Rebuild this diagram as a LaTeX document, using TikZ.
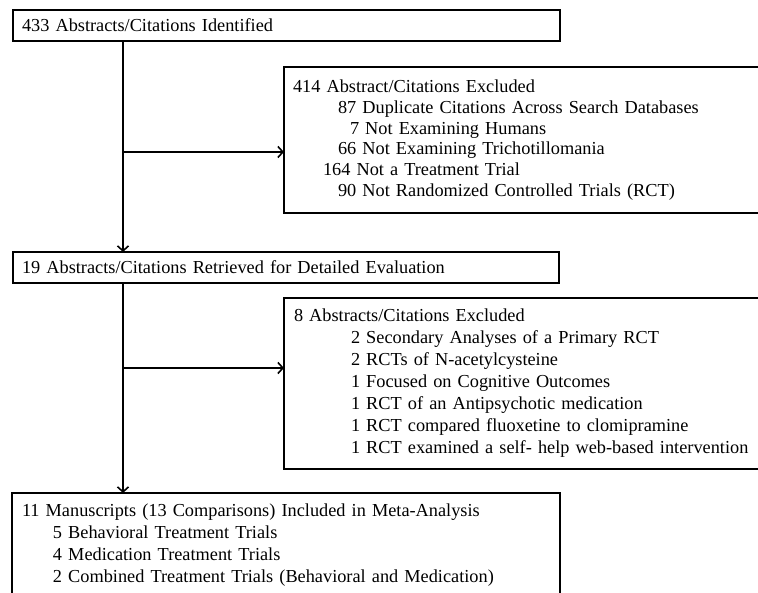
\documentclass[tikz,border=0pt]{standalone}
\usepackage{fontspec}
\setmainfont{Liberation Serif}
\usetikzlibrary{arrows.meta}

\begin{document}
\begin{tikzpicture}[x=1pt,y=-1pt,
    box/.style={draw, line width=1.6pt, anchor=north west, outer sep=0pt,
      inner xsep=9pt, inner ysep=0pt, align=left,
      font=\fontsize{18.3}{20.7}\selectfont},
    wide/.style={font=\fontsize{18.3}{22}\selectfont},
    flow/.style={line width=1.6pt, -{Straight Barb[length=5pt,width=11pt]}}]
  \useasboundingbox (0,0) rectangle (758,593);
  \clip (0,0) rectangle (758,593);

  \node[box, text width=529pt, minimum height=31pt] (ident) at (13,10)
    {433 Abstracts/Citations Identified};
  \node[box, text width=480pt, minimum height=146pt] (excl1) at (284,67)
    {414 Abstract/Citations Excluded\\
     \hspace*{45pt}87 Duplicate Citations Across Search Databases\\
     \hspace*{57pt}7 Not Examining Humans\\
     \hspace*{45pt}66 Not Examining Trichotillomania\\
     \hspace*{30pt}164 Not a Treatment Trial\\
     \hspace*{45pt}90 Not Randomized Controlled Trials (RCT)};
  \node[box, text width=528pt, minimum height=31pt] (retr) at (13,252)
    {19 Abstracts/Citations Retrieved for Detailed Evaluation};
  \node[box, wide, text width=480pt, inner xsep=10pt, minimum height=171pt] (excl2) at (284,298)
    {8 Abstracts/Citations Excluded\\
     \hspace*{57pt}2 Secondary Analyses of a Primary RCT\\
     \hspace*{57pt}2 RCTs of N-acetylcysteine\\
     \hspace*{57pt}1 Focused on Cognitive Outcomes\\
     \hspace*{57pt}1 RCT of an Antipsychotic medication\\
     \hspace*{57pt}1 RCT compared fluoxetine to clomipramine\\
     \hspace*{57pt}1 RCT examined a self- help web-based intervention};
  \node[box, wide, text width=528pt, inner xsep=10pt, minimum height=104pt] (incl) at (12,493)
    {11 Manuscripts (13 Comparisons) Included in Meta-Analysis\\
     \hspace*{31pt}5 Behavioral Treatment Trials\\
     \hspace*{31pt}4 Medication Treatment Trials\\
     \hspace*{31pt}2 Combined Treatment Trials (Behavioral and Medication)};

  % trunk and side branches
  \coordinate (trunk) at (123,0);
  \coordinate (br1) at (123,152);
  \coordinate (br2) at (123,368);

  \draw [flow] (ident.south -| trunk) -- (retr.north -| trunk);
  \draw [flow] (br1) -- (br1 -| excl1.west);
  \draw [flow] (retr.south -| trunk) -- (incl.north -| trunk);
  \draw [flow] (br2) -- (br2 -| excl2.west);
\end{tikzpicture}
\end{document}
